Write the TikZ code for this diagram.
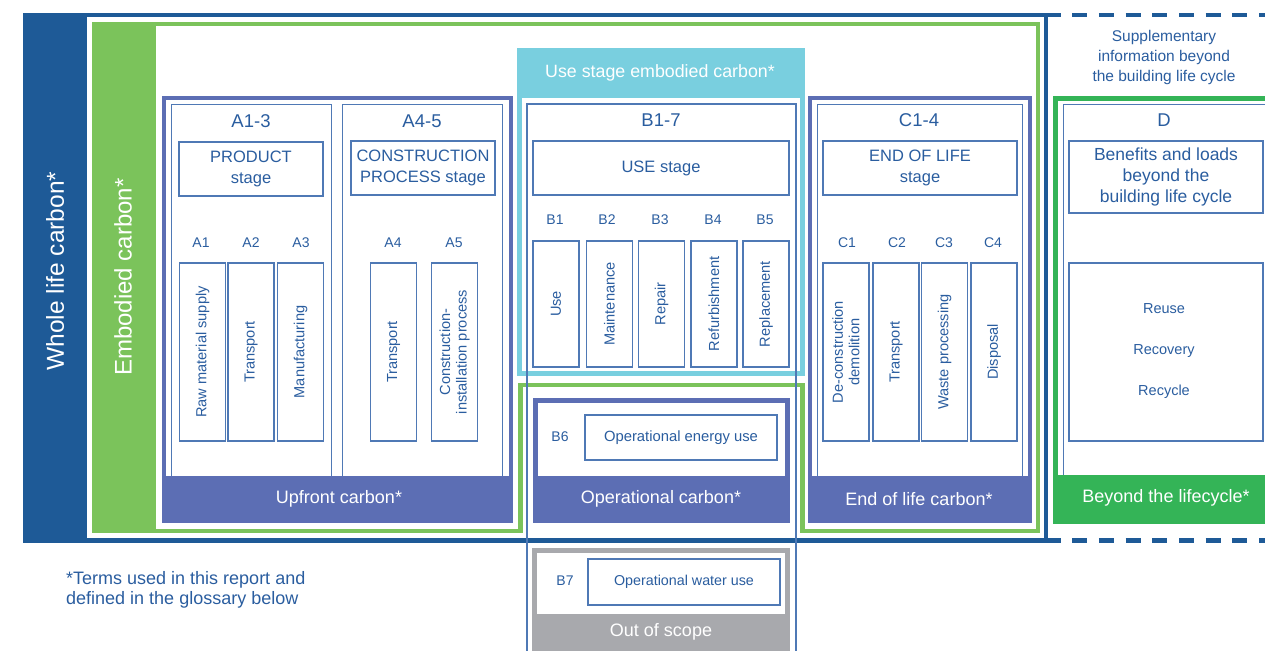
\documentclass[tikz,border=0pt]{standalone}
\usepackage{fontspec}
\setmainfont{Liberation Sans}
\definecolor{dblue}{HTML}{1E5A97}
\definecolor{lgreen}{HTML}{7BC35B}
\definecolor{cyanc}{HTML}{79CFDF}
\definecolor{purp}{HTML}{5C6EB4}
\definecolor{bgreen}{HTML}{34B457}
\definecolor{grayc}{HTML}{A8A9AD}
\definecolor{textblue}{HTML}{2A5D9F}
\definecolor{thinc}{HTML}{4F79B5}
\begin{document}
\begin{tikzpicture}[x=1pt,y=-1pt,
  thinbox/.style={draw=thinc,line width=1.2pt,inner sep=0pt},
  vbox/.style={thinbox,rotate=90,text=textblue,font=\fontsize{14.6}{16.5}\selectfont,align=center},
  small/.style={text=textblue,font=\fontsize{14}{16}\selectfont,inner sep=0pt},
  head/.style={text=textblue,font=\fontsize{18.5}{20}\selectfont,inner sep=0pt},
  stagebox/.style={thinbox,text=textblue,font=\fontsize{16.5}{21}\selectfont,align=center},
  band/.style={text=white,font=\fontsize{18}{20}\selectfont,inner sep=0pt},
  ]
\useasboundingbox (0,0) rectangle (1265,650);
\clip (0,0) rectangle (1265,650);

% whole life carbon frame
\fill[dblue] (23,13) rectangle (87,543);
\draw[dblue,line width=4.5pt] (25,15.25) rectangle (1045.75,540.5);
\node[band,rotate=90,font=\fontsize{24.5}{28}\selectfont] (wlc) at (55,271) {Whole life carbon*};

% dashed supplementary frame
\coordinate (dt0) at (1045.5,15.25);
\coordinate (dt1) at (1275,15.25);
\coordinate (db0) at (1045.5,540.5);
\coordinate (db1) at (1275,540.5);
\draw[dblue,line width=4.5pt,dash pattern=on 15pt off 11.7pt] (dt0) -- (dt1);
\draw[dblue,line width=4.5pt,dash pattern=on 15pt off 11.7pt] (db0) -- (db1);
\node[small,align=center,font=\fontsize{15.5}{20}\selectfont] (supp) at (1164,57) {Supplementary\\information beyond\\the building life cycle};

% embodied carbon frame
\fill[lgreen] (92,22) rectangle (156,533);
\draw[lgreen,line width=4.5pt,line join=miter] (94,24.25) -- (1037.75,24.25) -- (1037.75,530.75) -- (802.5,530.75) -- (802.5,384.75) -- (520.5,384.75) -- (520.5,530.75) -- (94,530.75) -- cycle;
\node[band,rotate=90,font=\fontsize{24}{28}\selectfont] (ec) at (123,277) {Embodied carbon*};

% use stage embodied carbon frame
\fill[cyanc] (517,49) rectangle (805,98);
\draw[cyanc,line width=5pt] (519.5,51) rectangle (802.5,373.5);
\node[band,font=\fontsize{17.8}{20}\selectfont] (usec) at (660,73) {Use stage embodied carbon*};

% Upfront carbon frame
\draw[purp,line width=4pt] (164,98) rectangle (511,521);
% A1-3
\node[thinbox,minimum width=160,minimum height=380,anchor=north west] (a13) at (171,104) {};
\node[head] (a13t) at (251,121) {A1-3};
\node[stagebox,minimum width=144,minimum height=54] (prod) at (251,169) {PRODUCT\\stage};
\node[small] (a1l) at (201,243) {A1};
\node[small] (a2l) at (251,243) {A2};
\node[small] (a3l) at (301,243) {A3};
\node[vbox,minimum width=178,minimum height=46] (a1) at (202.5,352) {Raw material supply};
\node[vbox,minimum width=178,minimum height=46] (a2) at (251,352) {Transport};
\node[vbox,minimum width=178,minimum height=46] (a3) at (300.5,352) {Manufacturing};
% A4-5
\node[thinbox,minimum width=160,minimum height=380,anchor=north west] (a45) at (342,104) {};
\node[head] (a45t) at (422,121) {A4-5};
\node[stagebox,minimum width=144,minimum height=54] (cons) at (423,168) {CONSTRUCTION\\PROCESS stage};
\node[small] (a4l) at (393,243) {A4};
\node[small] (a5l) at (454,243) {A5};
\node[vbox,minimum width=178,minimum height=46] (a4) at (393.5,352) {Transport};
\node[vbox,minimum width=178,minimum height=46] (a5) at (454.5,352) {Construction-\\installation process};
\fill[purp] (162,475.5) rectangle (513,523);
\node[band] (upc) at (339,499) {Upfront carbon*};

% B1-7
\coordinate (b17bl) at (527,655);
\coordinate (b17br) at (796,655);
\draw[thinc,line width=1.2pt] (b17bl) -- (527,104) -- (796,104) -- (b17br);
\node[head] (b17t) at (661,120) {B1-7};
\node[stagebox,minimum width=256,minimum height=54] (use) at (661,168) {USE stage};
\node[small] (b1l) at (555,220) {B1};
\node[small] (b2l) at (607,220) {B2};
\node[small] (b3l) at (660,220) {B3};
\node[small] (b4l) at (713,220) {B4};
\node[small] (b5l) at (765,220) {B5};
\node[vbox,minimum width=126,minimum height=46] (b1) at (556,304) {Use};
\node[vbox,minimum width=126,minimum height=46] (b2) at (609.5,304) {Maintenance};
\node[vbox,minimum width=126,minimum height=46] (b3) at (661.5,304) {Repair};
\node[vbox,minimum width=126,minimum height=46] (b4) at (714,304) {Refurbishment};
\node[vbox,minimum width=126,minimum height=46] (b5) at (766,304) {Replacement};

% Operational carbon
\fill[white] (533,398) rectangle (790,476);
\draw[purp,line width=5pt] (535.5,400.5) rectangle (787.5,520.5);
\node[small] (b6l) at (560,437) {B6};
\node[thinbox,minimum width=192,minimum height=45,text=textblue,font=\fontsize{14.8}{16}\selectfont] (b6) at (681,437.5) {Operational energy use};
\fill[purp] (533,476) rectangle (790,523);
\node[band] (opc) at (661,499) {Operational carbon*};

% End of life
\draw[purp,line width=4pt] (810,98) rectangle (1030,521);
\node[thinbox,minimum width=205,minimum height=380,anchor=north west] (c14) at (817,104) {};
\node[head] (c14t) at (919,120) {C1-4};
\node[stagebox,minimum width=194,minimum height=54] (eol) at (920,168) {END OF LIFE\\stage};
\node[small] (c1l) at (847,243) {C1};
\node[small] (c2l) at (897,243) {C2};
\node[small] (c3l) at (944,243) {C3};
\node[small] (c4l) at (993,243) {C4};
\node[vbox,minimum width=178,minimum height=46] (c1) at (846,352) {De-construction\\demolition};
\node[vbox,minimum width=178,minimum height=46] (c2) at (896,352) {Transport};
\node[vbox,minimum width=178,minimum height=46] (c3) at (944.5,352) {Waste processing};
\node[vbox,minimum width=178,minimum height=46] (c4) at (994,352) {Disposal};
\fill[purp] (808,476) rectangle (1032,523);
\node[band] (eolc) at (919,499) {End of life carbon*};

% D
\draw[bgreen,line width=5pt] (1055.5,98.5) rectangle (1280,521);
\node[thinbox,minimum width=230,minimum height=380,anchor=north west] (d) at (1063,104) {};
\node[head] (dt) at (1164,120) {D};
\node[stagebox,minimum width=194,minimum height=72,font=\fontsize{17.5}{21}\selectfont] (ben) at (1166,177) {Benefits and loads\\beyond the\\building life cycle};
\node[thinbox,minimum width=194,minimum height=178,text=textblue,font=\fontsize{14}{16}\selectfont] (rr) at (1166,352) {};
\node[small,font=\fontsize{14.5}{16}\selectfont] (reuse) at (1164,309) {Reuse};
\node[small,font=\fontsize{14.5}{16}\selectfont] (recov) at (1164,351) {Recovery};
\node[small,font=\fontsize{14.5}{16}\selectfont] (recyc) at (1164,392) {Recycle};
\fill[bgreen] (1053,475) rectangle (1270,524);
\node[band] (btl) at (1166,498) {Beyond the lifecycle*};

% B7 out of scope
\fill[white] (532,548) rectangle (790,614);
\draw[grayc,line width=5pt] (534.5,660) -- (534.5,550.5) -- (787.5,550.5) -- (787.5,660);
\node[small] (b7l) at (565,581) {B7};
\node[thinbox,minimum width=192,minimum height=46,text=textblue,font=\fontsize{14.3}{16}\selectfont] (b7) at (684,582) {Operational water use};
\fill[grayc] (532,614) rectangle (790,655);
\node[band] (oos) at (661,632) {Out of scope};

% footnote
\node[small,align=left,anchor=west,font=\fontsize{18}{20.5}\selectfont] (fn) at (66,590) {*Terms used in this report and\\defined in the glossary below};
\end{tikzpicture}
\end{document}
